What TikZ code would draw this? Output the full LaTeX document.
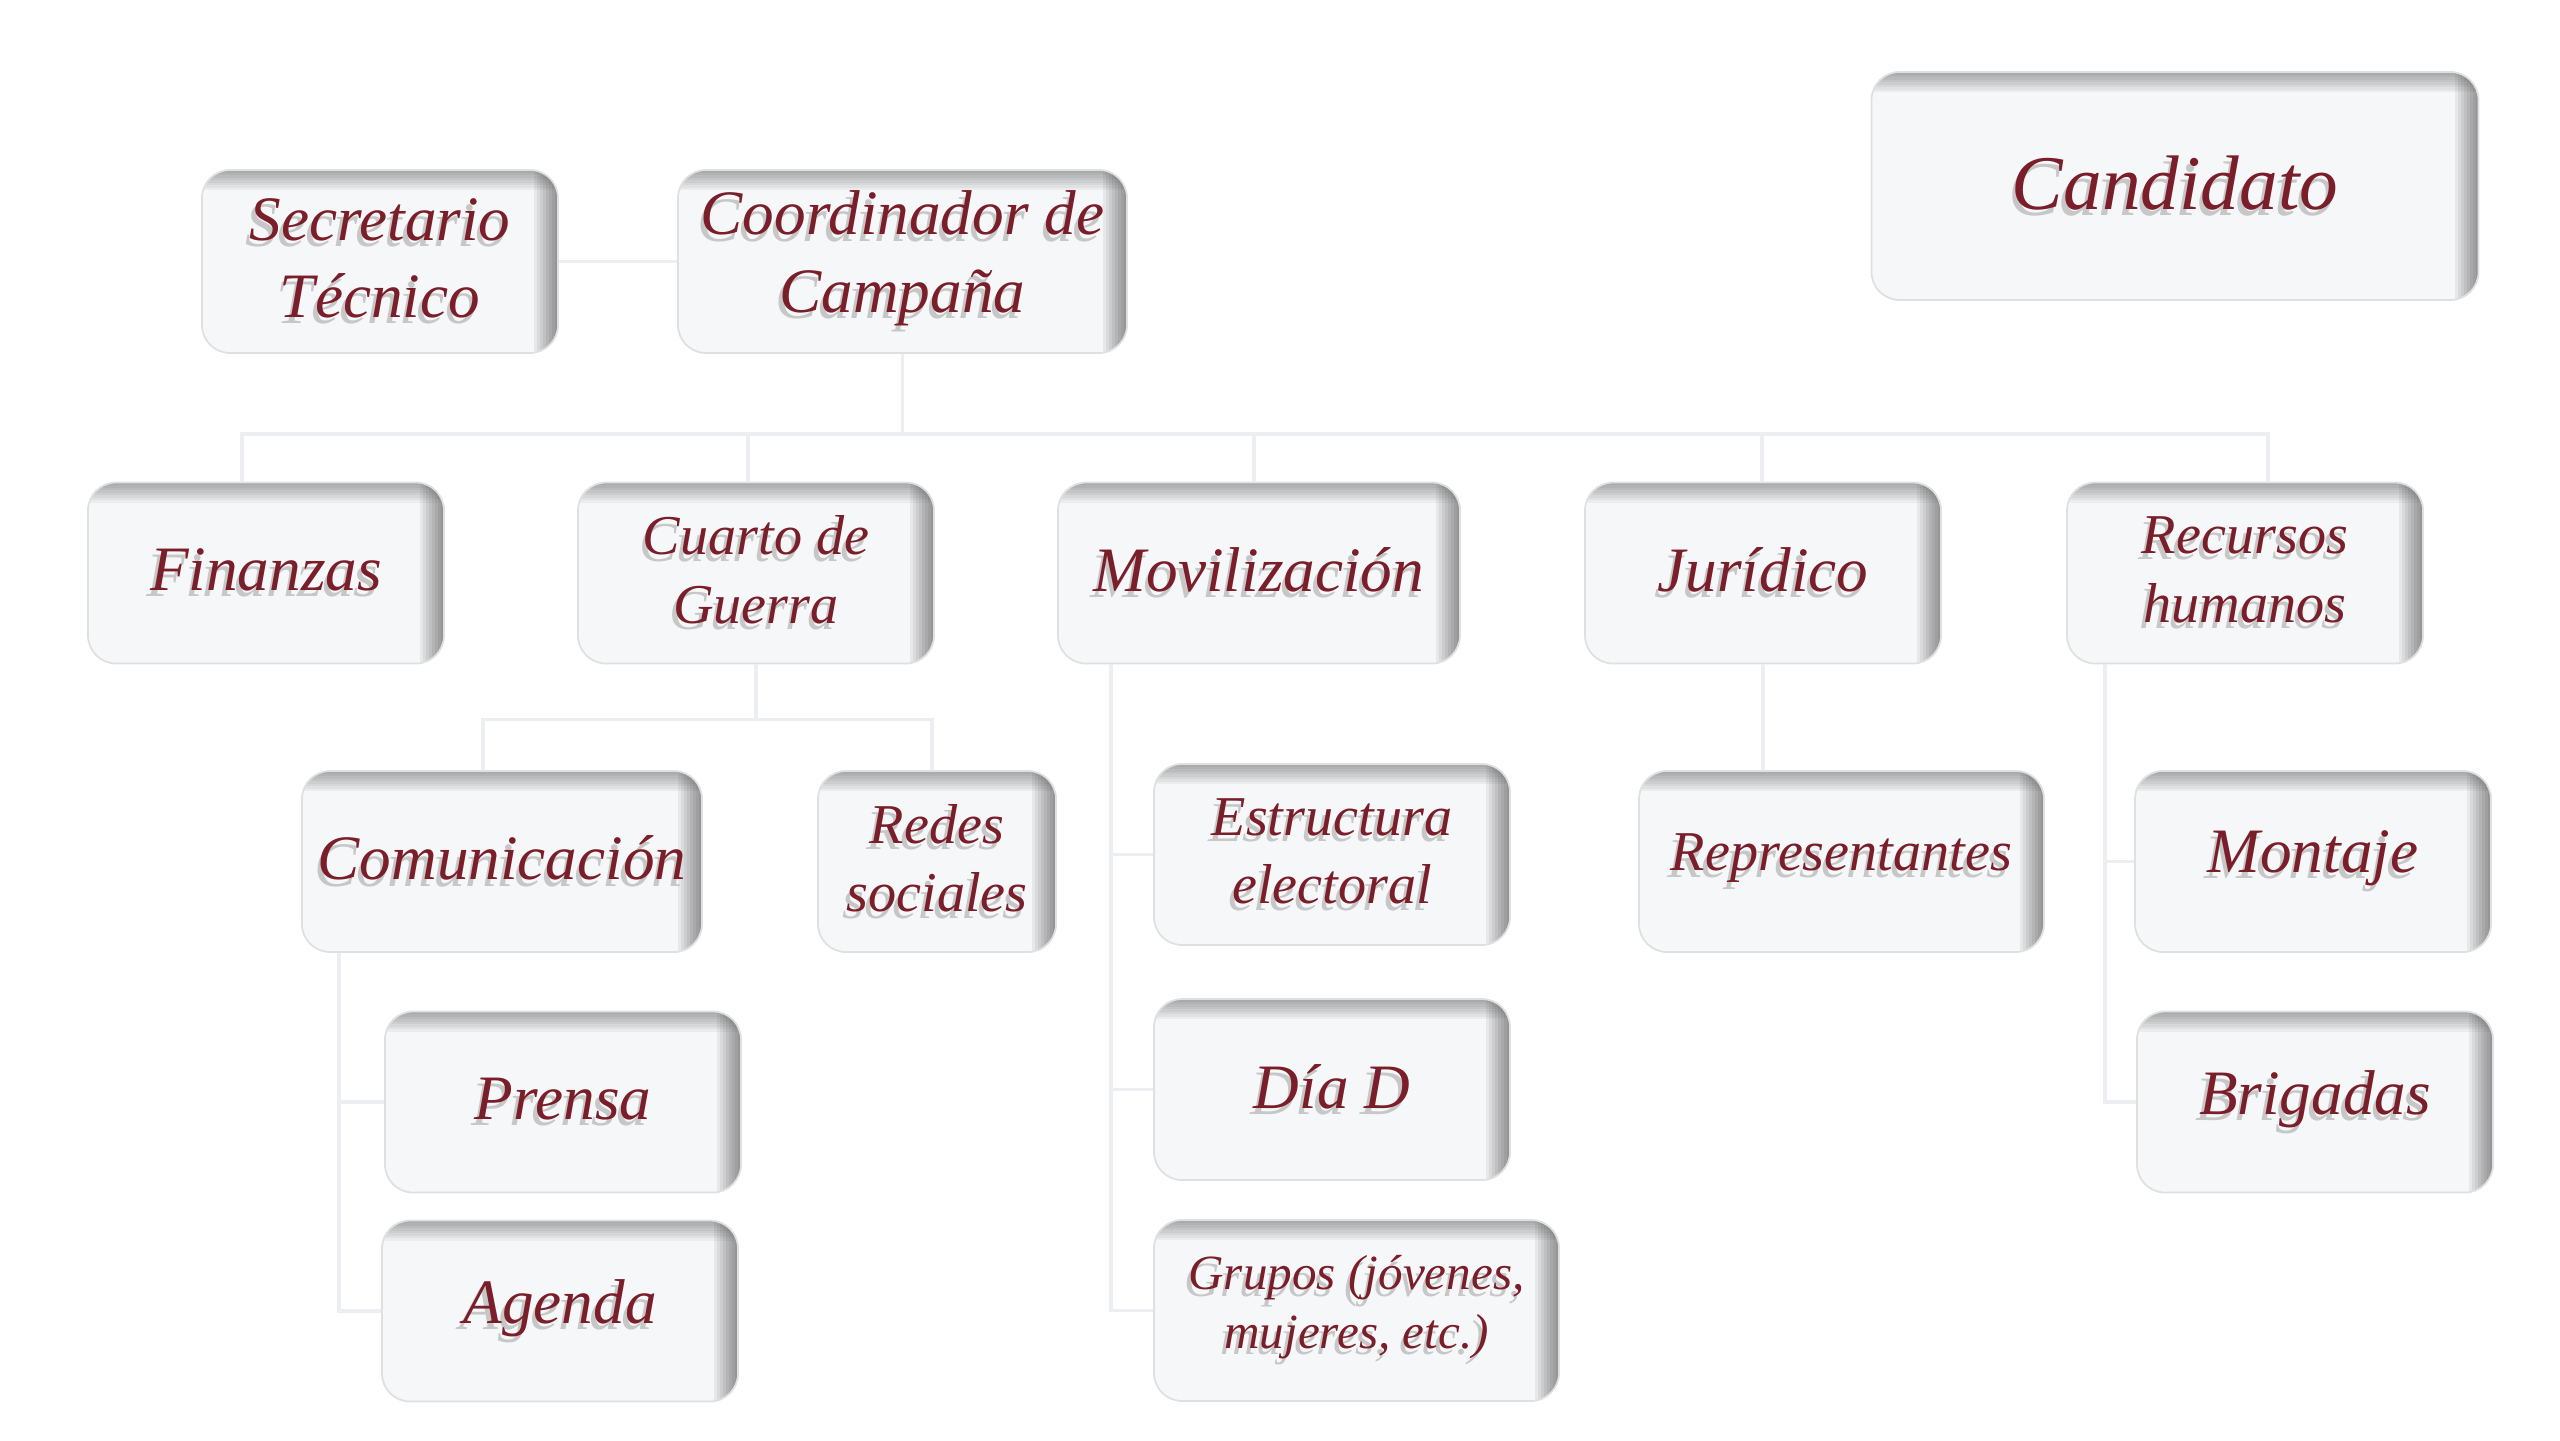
\documentclass[tikz,border=0pt]{standalone}
\usepackage{fontspec}
\setmainfont{Liberation Serif}
\usetikzlibrary{calc}
\definecolor{cT}{HTML}{7A1E2A}
\definecolor{cB}{HTML}{F6F7F9}
\definecolor{cL}{HTML}{ECEEF2}
% text with a soft shadow
\newcommand{\tsh}[1]{\makebox[0pt][l]{\hspace{-1pt}\raisebox{-1.8pt}{\textcolor{black!22}{#1}}}#1}
\tikzset{
  box/.style={rounded corners=2.8mm,fill=cB,draw=black!12,line width=.5pt,
    text=cT,align=center,inner sep=0pt,
    minimum width=3.56cm,minimum height=1.81cm,
    font=\fontsize{18}{22}\selectfont\itshape,
    path picture={
      \foreach \i in {1,...,8}{
        \fill[black,opacity=.045,sharp corners]
          (path picture bounding box.north west) rectangle
          ([yshift=-\i*0.25mm]path picture bounding box.north east);
        \fill[black,opacity=.06,sharp corners]
          ([xshift=-\i*0.3mm]path picture bounding box.south east) rectangle
          (path picture bounding box.north east);}}},
  boxm/.style={box,font=\fontsize{16}{19.5}\selectfont\itshape},
  boxs/.style={box,font=\fontsize{14}{16.7}\selectfont\itshape},
  boxl/.style={box,font=\fontsize{22}{26}\selectfont\itshape},
  link/.style={draw=cL,line width=1pt},
}

\begin{document}
\begin{tikzpicture}
  \useasboundingbox (0,0) rectangle (25.6,-14.4);
  \fill[white] (0,0) rectangle (25.6,-14.4);
  % top
  \node[boxl,minimum width=6.07cm,minimum height=2.28cm] (cand) at (21.75,-1.86) {\tsh{Candidato}};
  \node[box,minimum height=1.83cm] (sec) at (3.80,-2.615) {\tsh{Secretario}\\\tsh{Técnico}};
  \node[box,minimum width=4.49cm,minimum height=1.83cm] (coord) at (9.025,-2.615) {\tsh{Coordinador de}\\\tsh{Campaña}};
  % areas
  \node[box] (fin) at (2.66,-5.73) {\tsh{Finanzas}};
  \node[boxm] (cuarto) at (7.56,-5.73) {\tsh{Cuarto de}\\\tsh{Guerra}};
  \node[box,minimum width=4.02cm] (movil) at (12.59,-5.73) {\tsh{Movilización}};
  \node[box] (jur) at (17.63,-5.73) {\tsh{Jurídico}};
  \node[boxm] (rh) at (22.45,-5.73) {\tsh{Recursos}\\\tsh{humanos}};
  % third level
  \node[box,minimum width=4.00cm] (com) at (5.02,-8.615) {\tsh{Comunicación}};
  \node[boxm,minimum width=2.38cm] (redes) at (9.37,-8.615) {\tsh{Redes}\\\tsh{sociales}};
  \node[box] (prensa) at (5.63,-11.02) {\tsh{Prensa}};
  \node[box] (agenda) at (5.60,-13.11) {\tsh{Agenda}};
  \node[boxm] (estr) at (13.32,-8.545) {\tsh{Estructura}\\\tsh{electoral}};
  \node[box] (diad) at (13.32,-10.895) {\tsh{Día D}};
  \node[boxs,minimum width=4.05cm] (grupos) at (13.565,-13.105) {\tsh{Grupos (jóvenes,}\\\tsh{mujeres, etc.)}};
  \node[boxm,minimum width=4.05cm] (rep) at (18.415,-8.615) {\tsh{Representantes}};
  \node[box] (mont) at (23.13,-8.615) {\tsh{Montaje}};
  \node[box] (brig) at (23.15,-11.02) {\tsh{Brigadas}};
  % connectors
  \coordinate (bus) at ($(coord.south)+(0,-0.8)$);
  \coordinate (cbus) at ($(cuarto.south)+(0,-0.55)$);
  \draw[link] (sec) -- (coord);
  \foreach \n/\d in {fin/-2.4,cuarto/-0.8,movil/-0.5,jur/-0.1,rh/2.3}
    \draw[link] (coord.south) -- (bus) -| ([xshift=\d mm]\n.north);
  \foreach \n/\d in {com/-1.9,redes/-0.5}
    \draw[link] (cuarto.south) -- (cbus) -| ([xshift=\d mm]\n.north);
  \foreach \n in {prensa,agenda}
    \draw[link] ([xshift=3.8mm]com.south west) |- (\n.west);
  \foreach \n in {estr,diad,grupos}
    \draw[link] ([xshift=5.4mm]movil.south west) |- (\n.west);
  \draw[link] (jur.south) -- (jur.south |- rep.north);
  \foreach \n in {mont,brig}
    \draw[link] ([xshift=3.9mm]rh.south west) |- (\n.west);
\end{tikzpicture}
\end{document}
